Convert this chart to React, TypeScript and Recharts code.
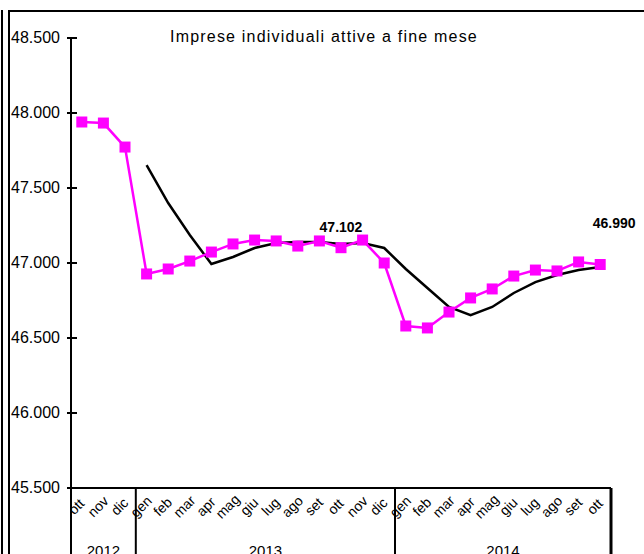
import React from 'react';
import { LineChart, Line, XAxis, YAxis } from 'recharts';

const months = [
  'ott', 'nov', 'dic',
  'gen', 'feb', 'mar', 'apr', 'mag', 'giu', 'lug', 'ago', 'set', 'ott', 'nov', 'dic',
  'gen', 'feb', 'mar', 'apr', 'mag', 'giu', 'lug', 'ago', 'set', 'ott',
];

const years = [
  '2012', '2012', '2012',
  '2013', '2013', '2013', '2013', '2013', '2013', '2013', '2013', '2013', '2013', '2013', '2013',
  '2014', '2014', '2014', '2014', '2014', '2014', '2014', '2014', '2014', '2014',
];

// imprese attive a fine mese
const attive = [
  47940, 47933, 47773,
  46927, 46960, 47013, 47073, 47127, 47153, 47147, 47113, 47147, 47102, 47153, 47000,
  46580, 46567, 46673, 46767, 46827, 46913, 46953, 46947, 47007, 46990,
];

// media mobile
const media = [
  null, null, null,
  47653, 47400, 47187, 46993, 47040, 47100, 47133, 47140, 47140, 47127, 47133, 47100,
  46960, 46833, 46707, 46653, 46707, 46800, 46873, 46920, 46953, 46973,
];

const yTicks = [45500, 46000, 46500, 47000, 47500, 48000, 48500];
const labelled = [12, 24];

const W = 644;
const H = 554;
const M = { top: 38, right: 33, left: 0, bottom: 0 };
const X_H = 66;
const Y_W = 71;
const BAND = (W - M.left - M.right - Y_W) / months.length;
const FONT = 'Liberation Sans, Arial, sans-serif';

const data = months.map((m, i) => ({
  key: i,
  month: m,
  year: years[i],
  attive: attive[i],
  media: media[i],
}));

const fmt = (v: number) => v.toLocaleString('de-DE');

const YTick = (props: any) => {
  const { y, payload } = props;
  return (
    <g>
      <line x1={Y_W - 4} x2={Y_W + 6} y1={y} y2={y} stroke="#000" strokeWidth={2} />
      <text x={Y_W - 11} y={y} dy={5} textAnchor="end" fontSize={16} fontFamily={FONT} fill="#000">
        {fmt(payload.value)}
      </text>
    </g>
  );
};

const XTick = (props: any) => {
  const { x, y, payload } = props;
  const i = payload.index;
  const first = i === 0 || years[i] !== years[i - 1];
  const last = i === months.length - 1;
  let yearLabel = null;
  if (first) {
    const count = years.filter((yy) => yy === years[i]).length;
    const cx = x - BAND / 2 + (count * BAND) / 2;
    yearLabel = (
      <text x={cx} y={y + 68} textAnchor="middle" fontSize={15} fontFamily={FONT} fill="#000">
        {years[i]}
      </text>
    );
  }
  return (
    <g>
      <text
        x={0}
        y={0}
        transform={`translate(${x - 2},${y + 22}) rotate(-45)`}
        textAnchor="middle"
        fontSize={14}
        fontFamily={FONT}
        fill="#000"
      >
        {months[i]}
      </text>
      {first && <line x1={x - BAND / 2} x2={x - BAND / 2} y1={y} y2={y + 80} stroke="#000" strokeWidth={2} />}
      {last && <line x1={x + BAND / 2} x2={x + BAND / 2} y1={y} y2={y + 80} stroke="#000" strokeWidth={3} />}
      {yearLabel}
    </g>
  );
};

const SquareDot = (props: any) => {
  const { cx, cy, index } = props;
  if (cx == null || cy == null) return <g key={index} />;
  return <rect key={index} x={cx - 5.5} y={cy - 5.5} width={11} height={11} fill="#ff00ff" />;
};

const ValueLabel = (props: any) => {
  const { x, y, index, value } = props;
  if (!labelled.includes(index)) return null;
  const dx = index === 24 ? 14 : 0;
  const dy = index === 24 ? -37 : -16;
  return (
    <text x={x + dx} y={y + dy} textAnchor="middle" fontSize={14} fontWeight="bold" fontFamily={FONT} fill="#000">
      {fmt(value)}
    </text>
  );
};

export default function App() {
  return (
    <div style={{ position: 'absolute', left: 0, top: 0, width: W, height: H, overflow: 'hidden', background: '#fff' }}>
      <div style={{ position: 'absolute', left: 1, top: 10, width: 2, height: H, background: '#000' }} />
      <div style={{ position: 'absolute', left: 8, top: 10, width: 2, height: H, background: '#000' }} />
      <div style={{ position: 'absolute', left: 8, top: 10, width: W, height: 2, background: '#000' }} />
      <div
        style={{
          position: 'absolute',
          left: 0,
          width: W,
          top: 28,
          textAlign: 'center',
          paddingLeft: 2,
          fontFamily: FONT,
          fontSize: 16,
          letterSpacing: 1.2,
          color: '#000',
        }}
      >
        Imprese individuali attive a fine mese
      </div>
      <LineChart width={W} height={H} data={data} margin={M} style={{ position: 'absolute', left: 0, top: 0 }}>
        <XAxis
          dataKey="key"
          type="category"
          scale="band"
          height={X_H}
          interval={0}
          tickLine={false}
          tickSize={0}
          tickMargin={0}
          axisLine={{ stroke: '#000', strokeWidth: 2 }}
          tick={<XTick />}
        />
        <YAxis
          domain={[45500, 48500]}
          ticks={yTicks}
          width={Y_W}
          tickLine={false}
          tickSize={0}
          axisLine={{ stroke: '#000', strokeWidth: 2 }}
          tick={<YTick />}
          allowDataOverflow
        />
        <Line
          dataKey="media"
          stroke="#000"
          strokeWidth={2.5}
          dot={false}
          activeDot={false}
          connectNulls={false}
          isAnimationActive={false}
        />
        <Line
          dataKey="attive"
          stroke="#ff00ff"
          strokeWidth={2.5}
          dot={<SquareDot />}
          activeDot={false}
          label={<ValueLabel />}
          isAnimationActive={false}
        />
      </LineChart>
    </div>
  );
}
